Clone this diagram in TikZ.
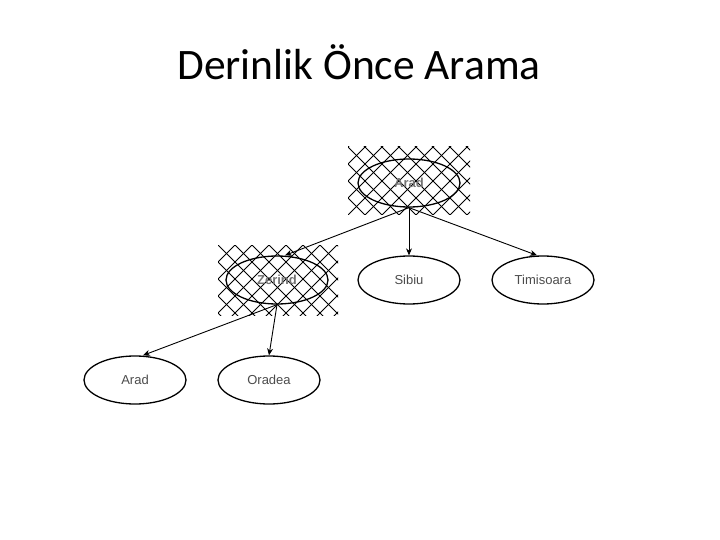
\documentclass[tikz,border=0pt]{standalone}
\usepackage{fontspec}
\setmainfont{Carlito}
\newfontfamily\lblfont{Liberation Sans}
\usetikzlibrary{arrows.meta,shapes.geometric}
\tikzset{
  city/.style={draw, ellipse, line width=1.3pt, minimum width=102pt, minimum height=48pt, inner sep=0pt, font=\lblfont\fontsize{13}{14}\selectfont, text=black!70},
  visited/.style={city, font=\lblfont\bfseries\fontsize{13}{14}\selectfont, text=black!55},
  edge/.style={line width=0.9pt, -{Stealth[length=7pt,width=6pt]}},
  hatch/.style={line width=1pt, black}
}
\newcommand{\hatchbox}[4]{%
  \begin{scope}
    \clip (#1,#2) rectangle (#3,#4);
    \foreach \k in {-12,...,14} {
      \draw[hatch] ({#1+\k*17-90},{#2-90}) -- ++(260,260);
      \draw[hatch] ({#1+\k*17+90},{#2-90}) -- ++(-260,260);
    }
  \end{scope}}
\begin{document}
\begin{tikzpicture}[x=1pt,y=-1pt]
\useasboundingbox (0,0) rectangle (720,540);
\fill[white] (0,0) rectangle (720,540);
\node[anchor=base, font=\fontsize{43.5}{48}\selectfont] (title) at (359,80) {Derinlik Önce Arama};
\hatchbox{348}{147}{470}{215}
\hatchbox{218}{245}{338}{315}
\node[visited] (arad) at (409,183) {Arad};
\node[visited] (zerind) at (277,280) {Zerind};
\node[city] (sibiu) at (409,280) {Sibiu};
\node[city] (timisoara) at (543,280) {Timisoara};
\node[city] (arad2) at (135,380) {Arad};
\node[city] (oradea) at (269,380) {Oradea};
\draw[edge] (arad.south) -- ([xshift=8pt]zerind.north);
\draw[edge] (arad.south) -- (sibiu.north);
\draw[edge] (arad.south) -- ([xshift=-6pt]timisoara.north);
\draw[edge] (zerind.south) -- ([xshift=8pt]arad2.north);
\draw[edge] (zerind.south) -- (oradea.north);
\end{tikzpicture}
\end{document}
